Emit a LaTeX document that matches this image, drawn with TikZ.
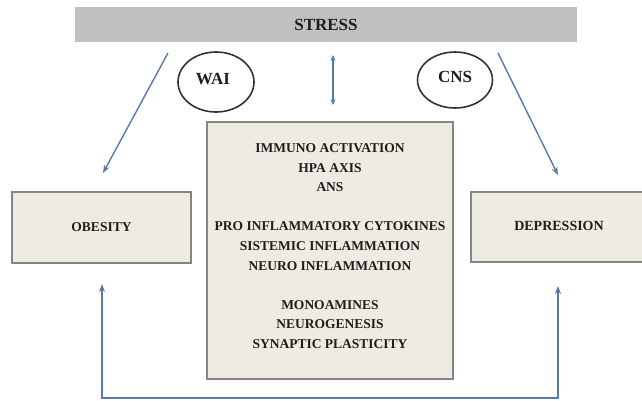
\documentclass[tikz,border=0pt]{standalone}
\usepackage{fontspec}
\setmainfont{Liberation Serif}
\usetikzlibrary{arrows.meta,shapes.geometric}
\definecolor{barfill}{HTML}{C0C0C0}
\definecolor{boxfill}{HTML}{EEEBE3}
\definecolor{boxline}{HTML}{858585}
\definecolor{linkcol}{HTML}{5A78A8}
\definecolor{inkcol}{HTML}{1E1E1E}
\tikzset{
  x=1pt, y=-1pt,
  every node/.style={inner sep=0pt, outer sep=0pt, text=inkcol, font=\bfseries},
  bar/.style={fill=barfill, minimum width=502pt, minimum height=35pt, font=\fontsize{17}{20}\selectfont\bfseries},
  oval/.style={draw=black!80, line width=1.6pt, ellipse},
  panel/.style={draw=boxline, line width=1.4pt, fill=boxfill},
  sidebox/.style={panel, font=\fontsize{13.5}{16}\selectfont\bfseries},
  tip/.style={Stealth[length=8pt,width=6pt]},
  link/.style={draw=linkcol, line width=1.4pt, -{Stealth[length=8pt,width=6pt]}},
  biglink/.style={draw=linkcol, line width=1.4pt, {Stealth[length=6pt,width=5pt]}-{Stealth[length=6pt,width=5pt]}},
  looplink/.style={draw=linkcol, line width=1.4pt, {Stealth[length=8pt,width=6pt]}-{Stealth[length=8pt,width=6pt]}}
}
\begin{document}
\begin{tikzpicture}
\useasboundingbox (0,0) rectangle (642,400);

% top bar
\node[bar] (stress) at (326,24.5) {STRESS};

% the two ovals
\node[oval, minimum width=76pt, minimum height=60pt] (wai) at (216,82) {};
\node at (213,79) {\fontsize{17}{20}\selectfont\bfseries WAI};
\node[oval, minimum width=75pt, minimum height=56pt] (cns) at (455,80) {};
\node at (455,77) {\fontsize{17}{20}\selectfont\bfseries CNS};

% central panel
\node[panel, minimum width=246pt, minimum height=257pt] (mid) at (330,250.5) {};
\node[align=center, font=\fontsize{13.5}{19.6}\selectfont\bfseries] (midtext) at (330,246) {%
IMMUNO ACTIVATION\\
HPA AXIS\\
ANS\\[19.6pt]
PRO INFLAMMATORY CYTOKINES\\
SISTEMIC INFLAMMATION\\
NEURO INFLAMMATION\\[19.6pt]
MONOAMINES\\
NEUROGENESIS\\
SYNAPTIC PLASTICITY};

% side boxes
\node[sidebox, minimum width=179pt, minimum height=71pt] (obesity) at (101.5,227.5) {OBESITY};
\node[panel, minimum width=176pt, minimum height=70pt] (depbox) at (559,227) {};
\node[font=\fontsize{14}{16}\selectfont\bfseries] (depression) at (559,226) {DEPRESSION};

% connector end points
\coordinate (l1) at (168,53);
\coordinate (l2) at (103,173);
\coordinate (r1) at (498,53);
\coordinate (r2) at (558,175);
\coordinate (c1) at (333,55);
\coordinate (c2) at (333,105);
\coordinate (b1) at (102,284);
\coordinate (b2) at (102,398);
\coordinate (b3) at (558,398);
\coordinate (b4) at (558,286);

\draw[link] (l1) -- (l2);
\draw[link] (r1) -- (r2);
\draw[biglink] (c1) -- (c2);
\draw[looplink] (b1) -- (b2) -- (b3) -- (b4);
\end{tikzpicture}
\end{document}
